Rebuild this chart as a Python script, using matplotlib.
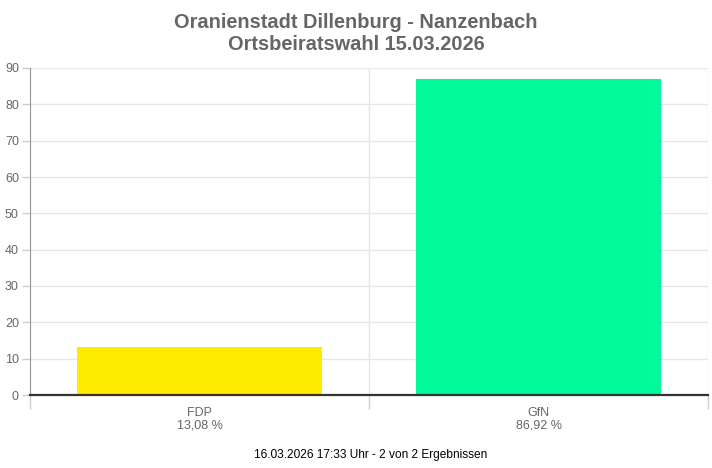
import matplotlib.pyplot as plt

plt.rcParams['font.family'] = ['Liberation Sans', 'DejaVu Sans']

# data
parties = ['FDP', 'GfN']
shares = [13.08, 86.92]
share_labels = ['13,08 %', '86,92 %']
bar_colors = ['#FFEB00', '#00FA9A']

fig = plt.figure(figsize=(7.12, 4.68), dpi=100)
ax = fig.add_axes([30 / 712, 73 / 468, 678 / 712, 327 / 468])

x = list(range(len(parties)))
ax.bar(x, shares, width=0.72, color=bar_colors, zorder=2)

ax.set_xlim(-0.5, len(parties) - 0.5)
ax.set_ylim(0, 90)
ax.set_yticks(range(0, 91, 10))
ax.tick_params(axis='y', length=6, width=1, color='#cccccc', labelcolor='#666666',
               labelsize=9, pad=2)

# category boundaries as vertical grid + ticks
bounds = [i - 0.5 for i in range(len(parties) + 1)]
ax.set_xticks(bounds)
ax.set_xticklabels([''] * len(bounds))
ax.tick_params(axis='x', length=10, width=1, color='#cccccc')
for b in bounds:
    ax.axvline(b, color='#e6e6e6', lw=1, zorder=0)
ax.grid(axis='y', color='#e6e6e6', lw=1, zorder=0)

for i, (p, lab) in enumerate(zip(parties, share_labels)):
    ax.text(i, -3.2, f'{p}\n{lab}', ha='center', va='top', color='#666666',
            fontsize=9, linespacing=1.1)

for side in ['top', 'right']:
    ax.spines[side].set_visible(False)
ax.spines['left'].set_color('#999999')
ax.spines['bottom'].set_color('#333333')
ax.spines['bottom'].set_linewidth(1.6)

fig.text(0.5, 1 - 22 / 468, 'Oranienstadt Dillenburg - Nanzenbach', ha='center', va='center',
         fontsize=14.4, fontweight='bold', color='#666666')
fig.text(0.5, 1 - 45 / 468, 'Ortsbeiratswahl 15.03.2026', ha='center', va='center',
         fontsize=14.4, fontweight='bold', color='#666666')
fig.text(371 / 712, 1 - 455 / 468, '16.03.2026 17:33 Uhr - 2 von 2 Ergebnissen',
         ha='center', va='center', fontsize=8.6, color='black')

fig.savefig('out.png', dpi=100, facecolor='white')
